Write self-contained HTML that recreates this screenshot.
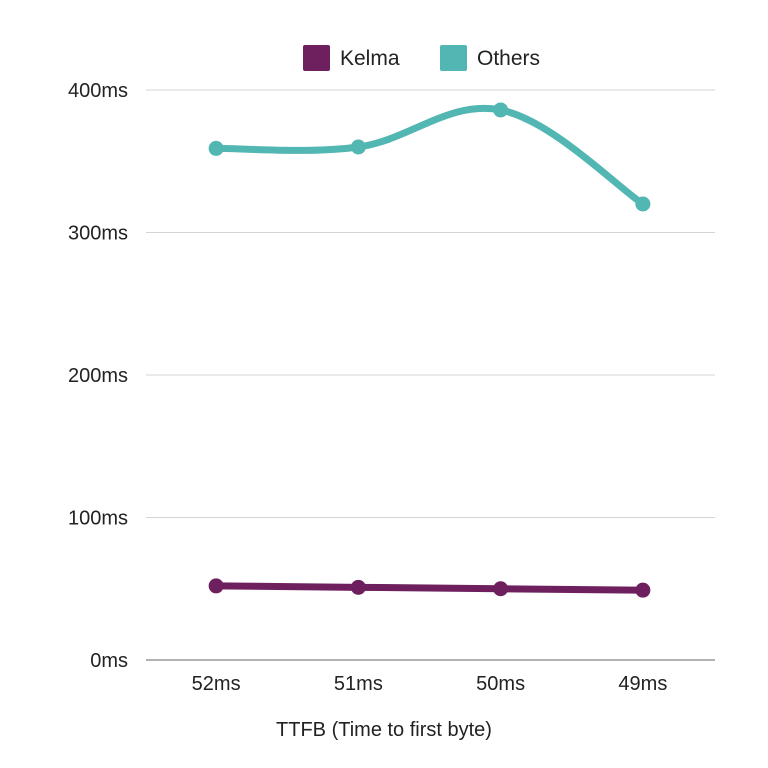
<!DOCTYPE html>
<html><head><meta charset="utf-8"><style>
body{margin:0;background:#fff;}
svg{display:block;font-family:"Liberation Sans",sans-serif;}
</style></head><body>
<svg id="chart" width="768" height="768">
<g id="grid"></g>
<g id="ylabels"></g>
<g id="xlabels"></g>
<g id="series"></g>
<text x="384" y="736" text-anchor="middle" font-size="20" fill="#222">TTFB (Time to first byte)</text>
<g>
<g><rect x="303" y="45" width="27" height="26" rx="2" fill="#6e1f5e"/><text x="340" y="65" font-size="21" fill="#222">Kelma</text></g>
<g><rect x="440" y="45" width="27" height="26" rx="2" fill="#52b6b3"/><text x="477" y="65" font-size="21" fill="#222">Others</text></g>
</g>
</svg>
<script>
const categories=["52ms","51ms","50ms","49ms"];
const kelma=[52,51,50,49];
const others=[359,360,386,320];
const yTicks=[0,100,200,300,400];
const yTickLabels=["0ms","100ms","200ms","300ms","400ms"];
const NS="http://www.w3.org/2000/svg";
const x0=146,x1=715,y0=660,yTop=90,yMax=400;
const step=(x1-x0)/categories.length;
const xs=i=>x0+step*(i+0.5)-1;
const ys=v=>y0-(y0-yTop)*v/yMax;
function mk(t,a,p){const e=document.createElementNS(NS,t);for(const k in a)e.setAttribute(k,a[k]);p.appendChild(e);return e;}
const grid=document.getElementById('grid'),yl=document.getElementById('ylabels'),xl=document.getElementById('xlabels'),sg=document.getElementById('series');
yTicks.forEach((v,i)=>{
 const l=mk('line',{x1:x0,x2:x1,y1:ys(v),y2:ys(v),stroke:i==0?'#999':'#d4d4d4','stroke-width':i==0?1.5:1},grid);
 
 
 const t=mk('text',{x:128,y:ys(v)+7,'text-anchor':'end','font-size':20,fill:'#222'},yl);
 t.textContent=yTickLabels[i];
 
 
});
categories.forEach((c,i)=>{
 const t=mk('text',{x:xs(i),y:690,'text-anchor':'middle','font-size':20,fill:'#222'},xl);
 t.textContent=c;
 
 
});
function smooth(pts){let d=`M${pts[0][0]},${pts[0][1]}`;for(let i=0;i<pts.length-1;i++){const p0=pts[Math.max(0,i-1)],p1=pts[i],p2=pts[i+1],p3=pts[Math.min(pts.length-1,i+2)];const t=0.18;d+=` C${p1[0]+(p2[0]-p0[0])*t},${p1[1]+(p2[1]-p0[1])*t} ${p2[0]-(p3[0]-p1[0])*t},${p2[1]-(p3[1]-p1[1])*t} ${p2[0]},${p2[1]}`;}return d;}
function draw(vals,color,name,curve){
 const pts=vals.map((v,i)=>[xs(i),ys(v)]);
 const p=mk('path',{d:curve?smooth(pts):'M'+pts.map(q=>q.join(',')).join(' L'),fill:'none',stroke:color,'stroke-width':7,'stroke-linecap':'round'},sg);
 
 
 pts.forEach((q,i)=>{const c=mk('circle',{cx:q[0],cy:q[1],r:7.5,fill:color},sg);
 
 });
}
draw(others,'#52b6b3','others',true);
draw(kelma,'#6e1f5e','kelma',false);
</script>
</body></html>
